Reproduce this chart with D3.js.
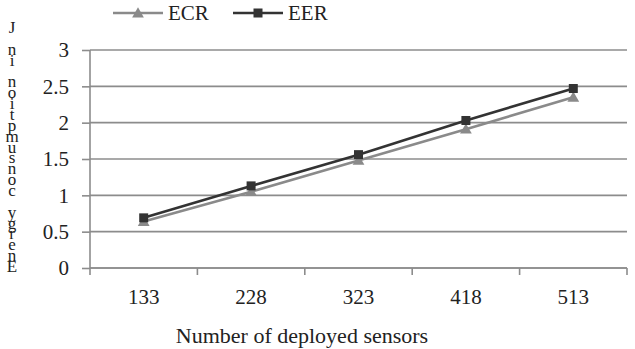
<!DOCTYPE html>
<html>
<head>
<meta charset="utf-8">
<script src="https://cdn.jsdelivr.net/npm/d3@7"></script>
<style>
    body { margin: 0; background: #fff; }
    text { font-family: "Liberation Serif", "Times New Roman", serif; fill: #222; }
</style>
</head>
<body>
<div id="chart"></div>
<script>
"use strict"

// values
const sensors = ["133", "228", "323", "418", "513"]
const ecr = [0.64, 1.05, 1.48, 1.91, 2.35]
const eer = [0.69, 1.13, 1.56, 2.03, 2.47]
const yTicks = [0, 0.5, 1, 1.5, 2, 2.5, 3]
const yTitle = "Energy consumption in J"
const xTitle = "Number of deployed sensors"

const size = { width: 635, height: 349 }
const plot = { left: 90, right: 627, top: 50, bottom: 268 }
const fontSize = "21px"

const svg = d3.select("#chart")
    .append("svg")
    .attr("width", size.width)
    .attr("height", size.height)

const x = d3.scaleBand()
    .domain(sensors)
    .range([plot.left, plot.right])
    .padding(0)
const y = d3.scaleLinear()
    .domain([0, 3])
    .range([plot.bottom, plot.top])

// gridlines
svg.append("g")
    .selectAll("line")
    .data(yTicks)
    .enter()
    .append("line")
    .attr("x1", plot.left)
    .attr("x2", plot.right)
    .attr("y1", d => y(d))
    .attr("y2", d => y(d))
    .attr("stroke", "#8c8c8c")
    .attr("stroke-width", 1.6)

// y axis
const yAxis = svg.append("g")
    .attr("transform", `translate(${plot.left},0)`)
    .call(d3.axisLeft(y).tickValues(yTicks).tickSize(8).tickPadding(13)
        .tickFormat(d3.format("")))
yAxis.selectAll("line, path").attr("stroke", "#8c8c8c").attr("stroke-width", 1.6)
yAxis.select("path").attr("d", `M0,${plot.top}V${plot.bottom}`)
yAxis.selectAll("text")
    .style("font-family", "Liberation Serif, serif")
    .style("font-size", fontSize)
    .attr("fill", "#222")

// x axis: ticks at band boundaries
const xAxis = svg.append("g")
svg.append("line")
    .attr("x1", plot.left).attr("x2", plot.right)
    .attr("y1", plot.bottom).attr("y2", plot.bottom)
    .attr("stroke", "#8c8c8c").attr("stroke-width", 1.6)
const bounds = sensors.map(s => x(s)).concat([x(sensors[sensors.length - 1]) + x.bandwidth()])
xAxis.selectAll("line")
    .data(bounds)
    .enter()
    .append("line")
    .attr("x1", d => d).attr("x2", d => d)
    .attr("y1", plot.bottom).attr("y2", plot.bottom + 7)
    .attr("stroke", "#8c8c8c").attr("stroke-width", 1.6)
xAxis.selectAll("text")
    .data(sensors)
    .enter()
    .append("text")
    .attr("x", d => x(d) + x.bandwidth() / 2)
    .attr("y", 304)
    .attr("text-anchor", "middle")
    .style("font-size", fontSize)
    .text(d => d)

svg.append("text")
    .attr("x", 302)
    .attr("y", 343)
    .attr("text-anchor", "middle")
    .style("font-size", "22px")
    .text(xTitle)

// y title: upright letters stacked, reversed (as in the original)
const chars = yTitle.split("").reverse()
svg.append("g")
    .selectAll("text")
    .data(chars)
    .enter()
    .append("text")
    .attr("x", 12)
    .attr("y", (d, i) => 33 + i * (239 / (chars.length - 1)))
    .attr("text-anchor", "middle")
    .style("font-size", "17px")
    .text(d => d)

// series
const series = [
    { name: "ECR", values: ecr, color: "#8a8a8a", marker: "triangle" },
    { name: "EER", values: eer, color: "#333333", marker: "square" }
]
const line = d3.line()
    .x((d, i) => x(sensors[i]) + x.bandwidth() / 2)
    .y(d => y(d))

const drawMarker = (g, kind, color, cx, cy) => {
    if (kind === "square") {
        g.append("rect")
            .attr("x", cx - 4.5).attr("y", cy - 4.5)
            .attr("width", 9).attr("height", 9)
            .attr("fill", color)
    } else {
        g.append("path")
            .attr("d", d3.symbol(d3.symbolTriangle, 60)())
            .attr("transform", `translate(${cx},${cy + 1})`)
            .attr("fill", color)
    }
}

for (let s of series) {
    const g = svg.append("g")
    g.append("path")
        .datum(s.values)
        .attr("d", line)
        .attr("fill", "none")
        .attr("stroke", s.color)
        .attr("stroke-width", 2.6)
    s.values.forEach((v, i) => {
        drawMarker(g, s.marker, s.color, x(sensors[i]) + x.bandwidth() / 2, y(v))
    })
}

// legend
const legendPos = [113, 233]
series.forEach((s, i) => {
    const g = svg.append("g")
    const x0 = legendPos[i]
    g.append("line")
        .attr("x1", x0).attr("x2", x0 + 50)
        .attr("y1", 13).attr("y2", 13)
        .attr("stroke", s.color).attr("stroke-width", 2.6)
    drawMarker(g, s.marker, s.color, x0 + 25, 13)
    g.append("text")
        .attr("x", x0 + 55)
        .attr("y", 20)
        .style("font-size", fontSize)
        .text(s.name)
})
</script>
</body>
</html>
